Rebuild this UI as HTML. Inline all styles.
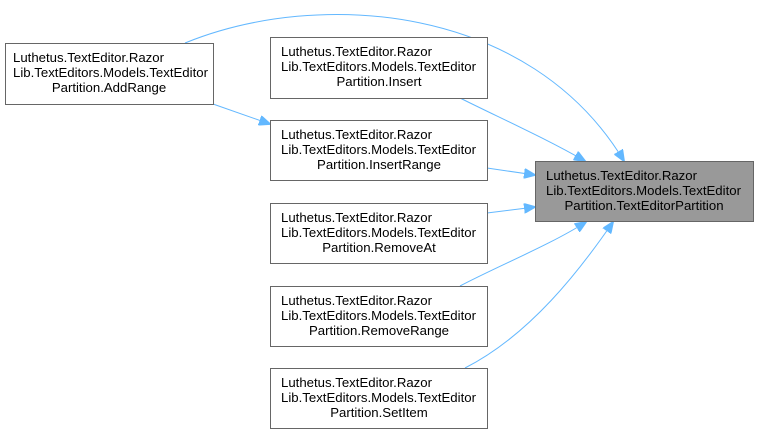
<!DOCTYPE html>
<html><head><meta charset="utf-8"><style>
html,body{margin:0;padding:0;background:#fff;width:759px;height:433px;overflow:hidden}
svg{display:block}
text{font-family:"Liberation Sans",Arial,sans-serif;font-size:13.2px;fill:#000}
</style></head><body>
<svg width="759" height="433" viewBox="0 0 759 433">
<defs><marker id="a" markerWidth="12" markerHeight="10" refX="11" refY="5" orient="auto" markerUnits="userSpaceOnUse"><path d="M0,0 L12,5 L0,10 Z" fill="#63b8ff" stroke="#63b8ff"/></marker></defs>
<g fill="none" stroke="#63b8ff" stroke-width="1">
<path d="M185,43 C320,-12 530,5 624,161" marker-end="url(#a)"/>
<path d="M460,98 C500,118 545,138 585,161" marker-end="url(#a)"/>
<path d="M487,168 L535,175" marker-end="url(#a)"/>
<path d="M487,213 L535,207" marker-end="url(#a)"/>
<path d="M460,286 C500,265 550,245 586,222" marker-end="url(#a)"/>
<path d="M465,368 C530,335 580,270 613,222" marker-end="url(#a)"/>
<path d="M213,104 L270,124" marker-end="url(#a)"/>
</g>
<g stroke="#666" stroke-width="1">
<rect x="5.5" y="43.5" width="208" height="61" fill="#fff"/>
<rect x="270.5" y="37.5" width="217" height="61" fill="#fff"/>
<rect x="270.5" y="120.5" width="217" height="60" fill="#fff"/>
<rect x="535.5" y="161.5" width="218" height="60" fill="#999"/>
<rect x="270.5" y="203.5" width="217" height="60" fill="#fff"/>
<rect x="270.5" y="286.5" width="217" height="60" fill="#fff"/>
<rect x="270.5" y="368.5" width="217" height="60" fill="#fff"/>
</g>
<text x="13" y="62">Luthetus.TextEditor.Razor</text>
<text x="13" y="77">Lib.TextEditors.Models.TextEditor</text>
<text x="109" y="92" text-anchor="middle">Partition.AddRange</text>
<text x="281" y="56">Luthetus.TextEditor.Razor</text>
<text x="281" y="71">Lib.TextEditors.Models.TextEditor</text>
<text x="379" y="86" text-anchor="middle">Partition.Insert</text>
<text x="281" y="139">Luthetus.TextEditor.Razor</text>
<text x="281" y="154">Lib.TextEditors.Models.TextEditor</text>
<text x="379" y="169" text-anchor="middle">Partition.InsertRange</text>
<text x="546" y="180">Luthetus.TextEditor.Razor</text>
<text x="546" y="195">Lib.TextEditors.Models.TextEditor</text>
<text x="644" y="210" text-anchor="middle">Partition.TextEditorPartition</text>
<text x="281" y="222">Luthetus.TextEditor.Razor</text>
<text x="281" y="237">Lib.TextEditors.Models.TextEditor</text>
<text x="379" y="252" text-anchor="middle">Partition.RemoveAt</text>
<text x="281" y="305">Luthetus.TextEditor.Razor</text>
<text x="281" y="320">Lib.TextEditors.Models.TextEditor</text>
<text x="379" y="335" text-anchor="middle">Partition.RemoveRange</text>
<text x="281" y="387">Luthetus.TextEditor.Razor</text>
<text x="281" y="402">Lib.TextEditors.Models.TextEditor</text>
<text x="379" y="417" text-anchor="middle">Partition.SetItem</text>
</svg>
</body></html>
